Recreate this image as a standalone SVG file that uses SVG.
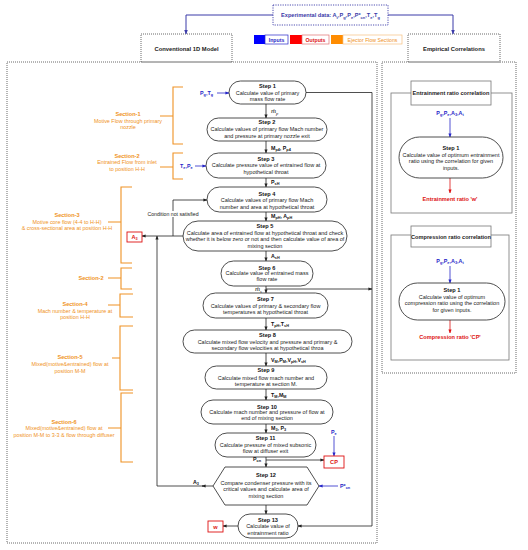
<svg xmlns="http://www.w3.org/2000/svg" width="528" height="550" viewBox="0 0 528 550">
<style>
text{font-family:"Liberation Sans",Arial,sans-serif;}
.t{font-size:5.5px;fill:#222;text-anchor:middle;}
.h{font-size:5.6px;font-weight:bold;fill:#111;text-anchor:middle;}
.lb{font-size:5.3px;font-weight:bold;fill:#111;}
.md{font-family:"Liberation Serif",serif;font-style:italic;font-size:7px;fill:#111;}
.sec{font-size:5.4px;fill:#ef9224;text-anchor:middle;}
.sech{font-size:5.6px;font-weight:bold;fill:#ef9224;text-anchor:middle;}
.bl{font-size:5.4px;font-weight:bold;fill:#2626c8;}
.rd{font-size:5.6px;font-weight:bold;fill:#dd1111;text-anchor:middle;}
.shape{fill:#fff;stroke:#222;stroke-width:0.8;}
.dot{fill:none;stroke:#444;stroke-width:0.8;stroke-dasharray:1 1;}
.ln{fill:none;stroke:#222;stroke-width:0.8;}
.bln{fill:none;stroke:#2626c8;stroke-width:0.8;}
.rln{fill:none;stroke:#dd1111;stroke-width:0.8;}
.nav{fill:none;stroke:#3a3aa8;stroke-width:1;}
.or{fill:none;stroke:#ef9224;stroke-width:1.1;}
.gb{fill:none;stroke:#777;stroke-width:0.8;}
.rbox{fill:#fff;stroke:#dd1111;stroke-width:0.9;}
</style>
<defs>
<marker id="ak" viewBox="0 0 10 10" refX="9" refY="5" markerWidth="4" markerHeight="4" orient="auto" markerUnits="userSpaceOnUse"><path d="M0,1 L10,5 L0,9 z" fill="#222"/></marker>
<marker id="ab" viewBox="0 0 10 10" refX="9" refY="5" markerWidth="4" markerHeight="4" orient="auto" markerUnits="userSpaceOnUse"><path d="M0,1 L10,5 L0,9 z" fill="#2626c8"/></marker>
<marker id="an" viewBox="0 0 10 10" refX="9" refY="5" markerWidth="4.5" markerHeight="4.5" orient="auto" markerUnits="userSpaceOnUse"><path d="M0,1 L10,5 L0,9 z" fill="#3a3aa8"/></marker>
<marker id="ar" viewBox="0 0 10 10" refX="9" refY="5" markerWidth="4" markerHeight="4" orient="auto" markerUnits="userSpaceOnUse"><path d="M0,1 L10,5 L0,9 z" fill="#dd1111"/></marker>
</defs>
<rect width="528" height="550" fill="#fff"/>

<!-- header -->
<g id="experimental">
<rect x="273" y="5" width="115" height="20" fill="#fff" stroke="#3a3aa8" stroke-width="0.9" stroke-dasharray="1.2 1.2"/>
<text x="330.5" y="17" font-size="5.6" font-weight="bold" fill="#3a3aa8" text-anchor="middle">Experimental data: A<tspan font-size="4" dy="1.5">t</tspan><tspan dy="-1.5">,P</tspan><tspan font-size="4" dy="1.5">g</tspan><tspan dy="-1.5">,P</tspan><tspan font-size="4" dy="1.5">e</tspan><tspan dy="-1.5">,P*</tspan><tspan font-size="4" dy="1.5">cn</tspan><tspan dy="-1.5">,T</tspan><tspan font-size="4" dy="1.5">e</tspan><tspan dy="-1.5">,T</tspan><tspan font-size="4" dy="1.5">g</tspan></text>
</g>
<g id="conv-title">
<rect x="141" y="34" width="91" height="28" class="dot"/>
<text x="186.5" y="51" font-size="5.8" font-weight="bold" fill="#222" text-anchor="middle">Conventional 1D Model</text>
</g>
<g id="emp-title">
<rect x="408" y="34" width="92" height="28" class="dot"/>
<text x="454" y="51" font-size="5.8" font-weight="bold" fill="#222" text-anchor="middle">Empirical  Correlations</text>
</g>
<g id="legend">
<rect x="254" y="35" width="11" height="9" fill="#0000ff"/>
<rect x="265" y="35" width="23" height="9" fill="#fff" stroke="#2626c8" stroke-width="0.7"/>
<text x="276.5" y="41.5" font-size="5.2" font-weight="bold" fill="#2626c8" text-anchor="middle">Inputs</text>
<rect x="290" y="35" width="12" height="9" fill="#ff0000"/>
<rect x="302" y="35" width="27" height="9" fill="#fff" stroke="#e07070" stroke-width="0.7"/>
<text x="315.5" y="41.5" font-size="5.2" font-weight="bold" fill="#dd1111" text-anchor="middle">Outputs</text>
<rect x="331" y="35" width="12" height="9" fill="#ff8c00"/>
<rect x="343" y="35" width="59" height="9" fill="#fff" stroke="#f5c080" stroke-width="0.7"/>
<text x="372.5" y="41.5" font-size="5.2" fill="#ef9224" text-anchor="middle">Ejector Flow Sections</text>
</g>

<!-- frames -->
<rect x="7" y="62" width="370" height="481" class="dot"/>
<rect x="382" y="62" width="134" height="311" class="dot"/>

<!-- connectors -->
<g id="connectors">
<path class="nav" d="M273,15 H186 V34" marker-end="url(#an)"/>
<path class="nav" d="M388,15 H453 V34" marker-end="url(#an)"/>
<path class="ln" d="M266,104 V118" marker-end="url(#ak)"/>
<path class="ln" d="M266,141 V153" marker-end="url(#ak)"/>
<path class="ln" d="M266,178 V187" marker-end="url(#ak)"/>
<path class="ln" d="M266,212 V221" marker-end="url(#ak)"/>
<path class="ln" d="M266,251 V261" marker-end="url(#ak)"/>
<path class="ln" d="M266,286 V293" marker-end="url(#ak)"/>
<path class="ln" d="M266,289 H372" marker-end="url(#ak)"/>
<path class="ln" d="M266,318 V330" marker-end="url(#ak)"/>
<path class="ln" d="M266,353 V366" marker-end="url(#ak)"/>
<path class="ln" d="M266,389 V400" marker-end="url(#ak)"/>
<path class="ln" d="M266,424 V433" marker-end="url(#ak)"/>
<path class="ln" d="M266,457 V467" marker-end="url(#ak)"/>
<path class="ln" d="M266,460 H324" marker-end="url(#ak)"/>
<path class="ln" d="M266,505 V514" marker-end="url(#ak)"/>
<path class="ln" d="M306,92.5 H372 V526 H298" marker-end="url(#ak)"/>
<path class="ln" d="M183,236 H142" marker-end="url(#ak)"/>
<path class="ln" d="M173,236 V200 H207" marker-end="url(#ak)"/>
<path class="ln" d="M213,486 H202" marker-end="url(#ak)"/>
<path class="ln" d="M203,486 H157 V236" marker-end="url(#ak)"/>
<path class="ln" d="M238,526 H223" marker-end="url(#ak)"/>
<path class="bln" d="M217,93 H229" marker-end="url(#ab)"/>
<path class="bln" d="M195,166 H206" marker-end="url(#ab)"/>
<path class="bln" d="M334,436 V456" marker-end="url(#ab)"/>
<path class="bln" d="M338,486 H319" marker-end="url(#ab)"/>
<path class="bln" d="M450,118 V137" marker-end="url(#ab)"/>
<path class="rln" d="M450,178 V193" marker-end="url(#ar)"/>
<path class="bln" d="M450,266 V283" marker-end="url(#ab)"/>
<path class="rln" d="M450,320 V333" marker-end="url(#ar)"/>
</g>

<!-- flow labels -->
<g id="labels">
<text class="md" x="271" y="113">ṁ<tspan font-size="4.5" dy="1.5">p</tspan></text>
<text class="lb" x="271" y="150">M<tspan font-size="3.8" dy="1.3">p4</tspan><tspan dy="-1.3">, P</tspan><tspan font-size="3.8" dy="1.3">p4</tspan></text>
<text class="lb" x="271" y="184">P<tspan font-size="3.8" dy="1.3">sH</tspan></text>
<text class="lb" x="271" y="218">M<tspan font-size="3.8" dy="1.3">pH</tspan><tspan dy="-1.3">, A</tspan><tspan font-size="3.8" dy="1.3">pH</tspan></text>
<text class="lb" x="271" y="258">A<tspan font-size="3.8" dy="1.3">sH</tspan></text>
<text class="md" x="255" y="291">ṁ<tspan font-size="4.5" dy="1.5">s</tspan></text>
<text class="lb" x="271" y="326">T<tspan font-size="3.8" dy="1.3">pH</tspan><tspan dy="-1.3">,T</tspan><tspan font-size="3.8" dy="1.3">sH</tspan></text>
<text class="lb" x="271" y="362">V<tspan font-size="3.8" dy="1.3">M</tspan><tspan dy="-1.3">,P</tspan><tspan font-size="3.8" dy="1.3">M</tspan><tspan dy="-1.3">,V</tspan><tspan font-size="3.8" dy="1.3">pH</tspan><tspan dy="-1.3">,V</tspan><tspan font-size="3.8" dy="1.3">sH</tspan></text>
<text class="lb" x="271" y="397">T<tspan font-size="3.8" dy="1.3">M</tspan><tspan dy="-1.3">,M</tspan><tspan font-size="3.8" dy="1.3">M</tspan></text>
<text class="lb" x="271" y="430">M<tspan font-size="3.8" dy="1.3">3</tspan><tspan dy="-1.3">, P</tspan><tspan font-size="3.8" dy="1.3">3</tspan></text>
<text class="lb" x="253" y="461">P<tspan font-size="3.8" dy="1.3">cn</tspan></text>
<text class="lb" x="193" y="484">A<tspan font-size="3.8" dy="1.3">3</tspan></text>
<rect x="147" y="211" width="53" height="6" fill="#fff"/>
<text x="173" y="215.5" font-size="5.2" fill="#222" text-anchor="middle">Condition not satisfied</text>
<text class="bl" x="200" y="95">P<tspan font-size="3.8" dy="1.3">g</tspan><tspan dy="-1.3">,T</tspan><tspan font-size="3.8" dy="1.3">g</tspan></text>
<text class="bl" x="180" y="168">T<tspan font-size="3.8" dy="1.3">e</tspan><tspan dy="-1.3">,P</tspan><tspan font-size="3.8" dy="1.3">e</tspan></text>
<text class="bl" x="331" y="434">P<tspan font-size="3.8" dy="1.3">e</tspan></text>
<text class="bl" x="340" y="488">P*<tspan font-size="3.8" dy="1.3">cn</tspan></text>
</g>

<!-- outputs -->
<g id="out-A3"><rect class="rbox" x="127" y="232" width="15" height="10"/><text class="rd" x="134.5" y="239">A<tspan font-size="3.8" dy="1.3">3</tspan></text></g>
<g id="out-CP"><rect class="rbox" x="324" y="456" width="20" height="12"/><text class="rd" x="334" y="464">CP</text></g>
<g id="out-w"><rect class="rbox" x="208" y="521" width="15" height="11"/><text class="rd" x="215.5" y="528.5">w</text></g>

<!-- steps -->
<g id="step1"><rect class="shape" x="229" y="81" width="77" height="23" rx="11.5"/>
<text class="h" x="267.5" y="88">Step 1</text><text class="t" x="267.5" y="94.5">Calculate value of primary</text><text class="t" x="267.5" y="100.5">mass flow rate</text></g>
<g id="step2"><rect class="shape" x="207" y="118" width="120" height="23" rx="11.5"/>
<text class="h" x="267" y="124">Step 2</text><text class="t" x="267" y="131">Calculate values of primary flow Mach number</text><text class="t" x="267" y="137.5">and pressure at primary nozzle exit</text></g>
<g id="step3"><rect class="shape" x="206" y="153" width="120" height="25" rx="12.5"/>
<text class="h" x="266" y="160.5">Step 3</text><text class="t" x="266" y="167">Calculate pressure value of entrained flow at</text><text class="t" x="266" y="174">hypothetical throat</text></g>
<g id="step4"><rect class="shape" x="207" y="187" width="120" height="25" rx="12.5"/>
<text class="h" x="267" y="195.5">Step 4</text><text class="t" x="267" y="202">Calculate values of primary flow Mach</text><text class="t" x="267" y="208.5">number and area at hypothetical throat</text></g>
<g id="step5"><rect class="shape" x="183" y="221" width="164" height="30" rx="15"/>
<text class="h" x="265" y="228">Step 5</text><text class="t" x="265" y="234.5">Calculate area  of entrained flow at hypothetical throat and check</text><text class="t" x="265" y="241">whether it is below zero or not and then calculate value of area of</text><text class="t" x="265" y="247.5">mixing section</text></g>
<g id="step6"><rect class="shape" x="221" y="261" width="92" height="25" rx="12.5"/>
<text class="h" x="267" y="269.5">Step 6</text><text class="t" x="267" y="275">Calculate value of entrained mass</text><text class="t" x="267" y="281">flow rate</text></g>
<g id="step7"><rect class="shape" x="203" y="293" width="125" height="25" rx="12.5"/>
<text class="h" x="265.5" y="300.5">Step 7</text><text class="t" x="265.5" y="307.5">Calculate values of primary &amp; secondary flow</text><text class="t" x="265.5" y="314">temperatures at hypothetical throat</text></g>
<g id="step8"><rect class="shape" x="183" y="330" width="169" height="23" rx="11.5"/>
<text class="h" x="267.5" y="336.5">Step 8</text><text class="t" x="267.5" y="343.5">Calculate mixed flow velocity and pressure and primary &amp;</text><text class="t" x="267.5" y="349.5">secondary flow velocities at hypothetical throa</text></g>
<g id="step9"><rect class="shape" x="205" y="366" width="122" height="23" rx="11.5"/>
<text class="h" x="266" y="372">Step 9</text><text class="t" x="266" y="379.5">Calculate mixed flow mach number and</text><text class="t" x="266" y="385.5">temperature at section M.</text></g>
<g id="step10"><rect class="shape" x="201" y="400" width="132" height="24" rx="12"/>
<text class="h" x="267" y="408.5">Step 10</text><text class="t" x="267" y="414">Calculate mach number and pressure of flow at</text><text class="t" x="267" y="420">end of mixing section</text></g>
<g id="step11"><rect class="shape" x="215" y="433" width="101" height="24" rx="12"/>
<text class="h" x="265.5" y="439.5">Step 11</text><text class="t" x="265.5" y="446.5">Calculate pressure of mixed subsonic</text><text class="t" x="265.5" y="453">flow at diffuser exit</text></g>
<g id="step12"><path class="shape" stroke-linejoin="round" d="M213,486 L225,467 H307 L319,486 L307,505 H225 Z"/>
<text class="h" x="266" y="477">Step 12</text><text class="t" x="266" y="484.5">Compare condenser pressure with its</text><text class="t" x="266" y="491">critical values and calculate area of</text><text class="t" x="266" y="497.5">mixing section</text></g>
<g id="step13"><rect class="shape" x="238" y="514" width="60" height="24" rx="12"/>
<text class="h" x="268" y="521.5">Step 13</text><text class="t" x="268" y="528">Calculate value of</text><text class="t" x="268" y="534.5">entrainment ratio</text></g>

<!-- sections -->
<g id="section1"><path class="or" d="M183,87 H173 V144 H183 M160,116 H173"/>
<text class="sech" x="128" y="115.5">Section-1</text><text class="sec" x="128" y="122.5">Motive Flow through primary</text><text class="sec" x="128" y="129">nozzle</text></g>
<g id="section2a"><path class="or" d="M183,153 H173 V179 H183 M160,167 H173"/>
<text class="sech" x="127" y="158">Section-2</text><text class="sec" x="127" y="164">Entrained Flow from inlet</text><text class="sec" x="127" y="171">to position H-H</text></g>
<g id="section3"><path class="or" d="M132,187 H121 V263 H132 M108,222 H121"/>
<text class="sech" x="67" y="217">Section-3</text><text class="sec" x="67" y="223.5">Motive core flow (4-4 to H-H)</text><text class="sec" x="67" y="230">&amp; cross-sectional area at position H-H</text></g>
<g id="section2b"><path class="or" d="M132,268 H121 V289 H132 M108,278 H121"/>
<text class="sech" x="91" y="280">Section-2</text></g>
<g id="section4"><path class="or" d="M133,294 H120 V317 H133 M108,305 H120"/>
<text class="sech" x="75" y="306">Section-4</text><text class="sec" x="75" y="312.5">Mach number &amp; temperature at</text><text class="sec" x="75" y="319">position H-H</text></g>
<g id="section5"><path class="or" d="M133,326 H120 V390 H133 M112,358 H120"/>
<text class="sech" x="70" y="359">Section-5</text><text class="sec" x="70" y="366">Mixed(motive&amp;entrained) flow at</text><text class="sec" x="70" y="372.5">position M-M</text></g>
<g id="section6"><path class="or" d="M133,393 H121 V462 H133 M108,428 H121"/>
<text class="sech" x="64" y="424">Section-6</text><text class="sec" x="64" y="430">Mixed(motive&amp;entrained) flow at</text><text class="sec" x="64" y="437">position M-M to 3-3 &amp; flow through diffuser</text></g>

<!-- empirical correlations -->
<g id="entrainment-corr">
<rect class="gb" x="391" y="93" width="121" height="120"/>
<rect x="411" y="81" width="80" height="24" fill="#fff" stroke="#777" stroke-width="0.8"/>
<text x="451" y="95" font-size="5.6" font-weight="bold" fill="#222" text-anchor="middle">Entrainment ratio correlation</text>
<text class="bl" x="450" y="115" text-anchor="middle">P<tspan font-size="3.8" dy="1.3">g</tspan><tspan dy="-1.3">,P</tspan><tspan font-size="3.8" dy="1.3">e</tspan><tspan dy="-1.3">,A</tspan><tspan font-size="3.8" dy="1.3">3</tspan><tspan dy="-1.3">,A</tspan><tspan font-size="3.8" dy="1.3">t</tspan></text>
<rect class="shape" x="399" y="137" width="104" height="41" rx="20.5"/>
<text class="h" x="451" y="150">Step 1</text><text class="t" x="451" y="156.5">Calculate value of optimum entrainment</text><text class="t" x="451" y="163">ratio using the correlation for given</text><text class="t" x="451" y="169.5">inputs.</text>
<text x="450" y="201" font-size="5.6" font-weight="bold" fill="#dd1111" text-anchor="middle">Entrainment ratio 'w'</text>
</g>
<g id="compression-corr">
<rect class="gb" x="391" y="235" width="118" height="125"/>
<rect x="411" y="226" width="80" height="21" fill="#fff" stroke="#777" stroke-width="0.8"/>
<text x="451" y="238.5" font-size="5.6" font-weight="bold" fill="#222" text-anchor="middle">Compression ratio correlation</text>
<text class="bl" x="450" y="263" text-anchor="middle">P<tspan font-size="3.8" dy="1.3">g</tspan><tspan dy="-1.3">,P</tspan><tspan font-size="3.8" dy="1.3">e</tspan><tspan dy="-1.3">,A</tspan><tspan font-size="3.8" dy="1.3">3</tspan><tspan dy="-1.3">,A</tspan><tspan font-size="3.8" dy="1.3">t</tspan></text>
<rect class="shape" x="399" y="283" width="106" height="37" rx="18.5"/>
<text class="h" x="452" y="292">Step 1</text><text class="t" x="452" y="298.5">Calculate value of optimum</text><text class="t" x="452" y="305">compression ratio using the correlation</text><text class="t" x="452" y="311.5">for given inputs.</text>
<text x="450" y="339" font-size="5.6" font-weight="bold" fill="#dd1111" text-anchor="middle">Compression ratio 'CP'</text>
</g>
</svg>
